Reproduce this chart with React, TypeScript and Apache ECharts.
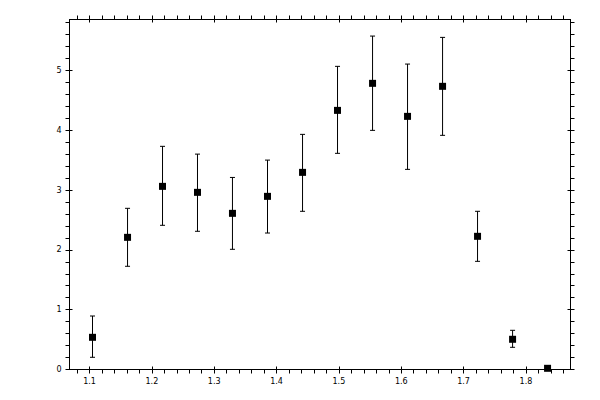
import { useRef, useEffect } from 'react'
import * as echarts from 'echarts'

// measured points (x, value) with error range
const xValues = [1.1048, 1.161, 1.2171, 1.2732, 1.3293, 1.3855, 1.4417, 1.4978, 1.554, 1.6101, 1.6663, 1.7224, 1.7786, 1.8347]
const yValues = [0.538, 2.209, 3.061, 2.961, 2.61, 2.894, 3.295, 4.331, 4.783, 4.231, 4.733, 2.226, 0.505, 0.02]
const yLow = [0.204, 1.725, 2.41, 2.31, 2.009, 2.281, 2.644, 3.613, 3.997, 3.345, 3.914, 1.808, 0.371, 0.02]
const yHigh = [0.894, 2.694, 3.73, 3.6, 3.21, 3.5, 3.93, 5.067, 5.573, 5.105, 5.551, 2.644, 0.655, 0.02]

// axis ticks
const xMajorTicks = [1.1, 1.2, 1.3, 1.4, 1.5, 1.6, 1.7, 1.8]
const xAllTicks = [
  1.08, 1.1, 1.12, 1.14, 1.16, 1.18, 1.2, 1.22, 1.24, 1.26, 1.28, 1.3, 1.32, 1.34, 1.36, 1.38,
  1.4, 1.42, 1.44, 1.46, 1.48, 1.5, 1.52, 1.54, 1.56, 1.58, 1.6, 1.62, 1.64, 1.66, 1.68,
  1.7, 1.72, 1.74, 1.76, 1.78, 1.8, 1.82, 1.84, 1.86,
]
const yMajorTicks = [0, 1, 2, 3, 4, 5]
const yAllTicks = [
  0, 0.2, 0.4, 0.6, 0.8, 1, 1.2, 1.4, 1.6, 1.8, 2, 2.2, 2.4, 2.6, 2.8, 3, 3.2, 3.4, 3.6, 3.8,
  4, 4.2, 4.4, 4.6, 4.8, 5, 5.2, 5.4, 5.6, 5.8,
]

const X_MIN = 1.0679
const X_MAX = 1.8715
const Y_MIN = 0
const Y_MAX = 5.85

const FONT = 'DejaVu Sans'

export default function App() {
  const chartRef = useRef<HTMLDivElement>(null)

  useEffect(() => {
    document.body.style.margin = '0'
    if (!chartRef.current) return
    const chart = echarts.init(chartRef.current, undefined, { renderer: 'svg' })

    const line = { lineStyle: { color: '#000', width: 1 } }

    const xAxisBase = (position: 'top' | 'bottom', outer: boolean, labels: boolean) => ({
      type: 'value',
      position,
      min: X_MIN,
      max: X_MAX,
      axisLine: { show: outer, onZero: false, ...line },
      axisTick: {
        show: true,
        inside: !outer,
        length: outer ? 4 : 3,
        customValues: outer ? xAllTicks : xMajorTicks,
        ...line,
      },
      axisLabel: labels
        ? { show: true, customValues: xMajorTicks, margin: 8, color: '#000', fontFamily: FONT, fontSize: 8, formatter: (v: number) => v.toFixed(1) }
        : { show: false },
      splitLine: { show: false },
    })

    const yAxisBase = (position: 'left' | 'right', outer: boolean, labels: boolean) => ({
      type: 'value',
      position,
      min: Y_MIN,
      max: Y_MAX,
      axisLine: { show: outer, onZero: false, ...line },
      axisTick: {
        show: true,
        inside: !outer,
        length: outer ? 4 : 3,
        customValues: outer ? yAllTicks : yMajorTicks,
        ...line,
      },
      axisLabel: labels
        ? { show: true, customValues: yMajorTicks, margin: 8, color: '#000', fontFamily: FONT, fontSize: 8, formatter: (v: number) => String(v) }
        : { show: false },
      splitLine: { show: false },
    })

    const pointData = xValues.map((x, i) => [x, yValues[i]])
    const errorData = xValues.map((x, i) => [x, yLow[i], yHigh[i]])

    chart.setOption({
      animation: false,
      backgroundColor: '#fff',
      grid: { left: 69.5, right: 29.5, top: 19.5, bottom: 30.5, containLabel: false },
      xAxis: [
        xAxisBase('bottom', true, true),
        xAxisBase('bottom', false, false),
        xAxisBase('top', true, false),
        xAxisBase('top', false, false),
      ],
      yAxis: [
        yAxisBase('left', true, true),
        yAxisBase('left', false, false),
        yAxisBase('right', true, false),
        yAxisBase('right', false, false),
      ],
      series: [
        {
          type: 'custom',
          xAxisIndex: 0,
          yAxisIndex: 0,
          data: errorData,
          renderItem: (_params: any, api: any) => {
            const x = api.value(0)
            const lo = api.coord([x, api.value(1)])
            const hi = api.coord([x, api.value(2)])
            const cap = 2.5
            const style = { stroke: '#000', lineWidth: 1, fill: 'none' }
            return {
              type: 'group',
              children: [
                { type: 'line', shape: { x1: lo[0], y1: lo[1], x2: hi[0], y2: hi[1] }, style },
                { type: 'line', shape: { x1: hi[0] - cap, y1: hi[1], x2: hi[0] + cap, y2: hi[1] }, style },
                { type: 'line', shape: { x1: lo[0] - cap, y1: lo[1], x2: lo[0] + cap, y2: lo[1] }, style },
              ],
            }
          },
          z: 2,
        },
        {
          type: 'scatter',
          xAxisIndex: 0,
          yAxisIndex: 0,
          data: pointData,
          symbol: 'rect',
          symbolSize: 7,
          itemStyle: { color: '#000', opacity: 1 },
          z: 3,
        },
      ],
    })

    return () => chart.dispose()
  }, [])

  return <div ref={chartRef} style={{ width: 600, height: 400 }} />
}
